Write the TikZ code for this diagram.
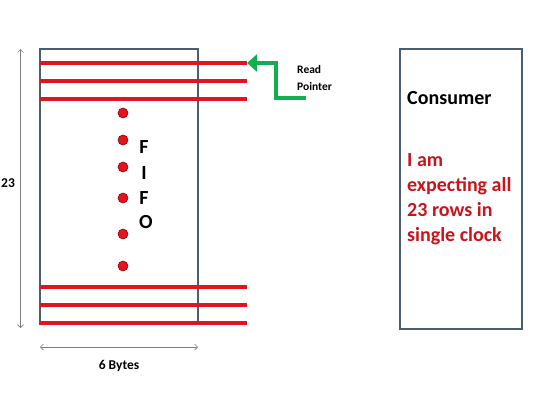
\documentclass[tikz,border=0pt]{standalone}
\usepackage{fontspec}
\setmainfont{Carlito}
\usetikzlibrary{arrows.meta}
\definecolor{boxc}{HTML}{4A5E72}
\definecolor{redl}{HTML}{E0161E}
\definecolor{redt}{HTML}{C8141A}
\definecolor{greenc}{HTML}{10B050}
\definecolor{grayc}{HTML}{808080}
\begin{document}
\begin{tikzpicture}[x=1pt,y=-1pt,
  boxst/.style={draw=boxc,line width=1.2pt},
  rowline/.style={draw=redl,line width=4pt},
  dotst/.style={circle,fill=redl,draw=red!60!black,line width=0.6pt,minimum size=10pt,inner sep=0pt},
  dimarrow/.style={draw=grayc,line width=0.7pt,{Straight Barb[length=3pt,width=6pt]}-{Straight Barb[length=3pt,width=6pt]}},
  lbl/.style={font=\bfseries\fontsize{13.5}{15}\selectfont,inner sep=0pt},
  fifol/.style={font=\bfseries\fontsize{20}{22}\selectfont,inner sep=0pt}
]
\useasboundingbox (0,0) rectangle (540,405);
% FIFO box
\node[boxst,minimum width=158pt,minimum height=275pt,inner sep=0pt] (fifo) at (119,186.5) {};
% rows
\foreach \i/\y in {1/63,2/81,3/99,4/287,5/305,6/323}{
  \coordinate (rs\i) at (40,\y);
  \coordinate (re\i) at (247,\y);
  \draw[rowline] (rs\i) -- (re\i);
}
% dots
\foreach \i/\y in {1/113,2/140,3/167,4/198,5/234,6/266}{
  \node[dotst] (d\i) at (123,\y) {};
}
% FIFO letters
\node[fifol] (lF1) at (144,147) {F};
\node[fifol] (lI) at (144,173) {I};
\node[fifol] (lF2) at (144,198) {F};
\node[fifol] (lO) at (146,222) {O};
% dimension arrows
\coordinate (vt) at (20.5,49);
\coordinate (vb) at (20.5,328);
\draw[dimarrow] (vt) -- (vb);
\node[lbl] (n23) at (8,183) {23};
\coordinate (hl) at (40,347);
\coordinate (hr) at (198,347);
\draw[dimarrow] (hl) -- (hr);
\node[lbl] (bytes) at (119,366) {6 Bytes};
% read pointer
\coordinate (gp0) at (306,98);
\coordinate (gp1) at (276,98);
\coordinate (gp2) at (276,63);
\draw[draw=greenc,line width=4pt,-{Triangle[length=10pt,width=17pt]}] (gp0) -- (gp1) -- (gp2) -- (re1);
\node[font=\bfseries\fontsize{11.5}{17}\selectfont,inner sep=0pt,align=left,anchor=west] (rp) at (297,78) {Read\\Pointer};
% consumer
\node[boxst,minimum width=122pt,minimum height=280pt,inner sep=0pt] (cons) at (461,189) {};
\node[font=\bfseries\fontsize{20}{22}\selectfont,anchor=west,inner sep=0pt] (ctitle) at (407,98) {Consumer};
\node[font=\bfseries\fontsize{20}{24.8}\selectfont,text=redt,anchor=north west,align=left,inner sep=0pt] (ctext) at (407,153.5) {I am\\expecting all\\23 rows in\\single clock};
\end{tikzpicture}
\end{document}
